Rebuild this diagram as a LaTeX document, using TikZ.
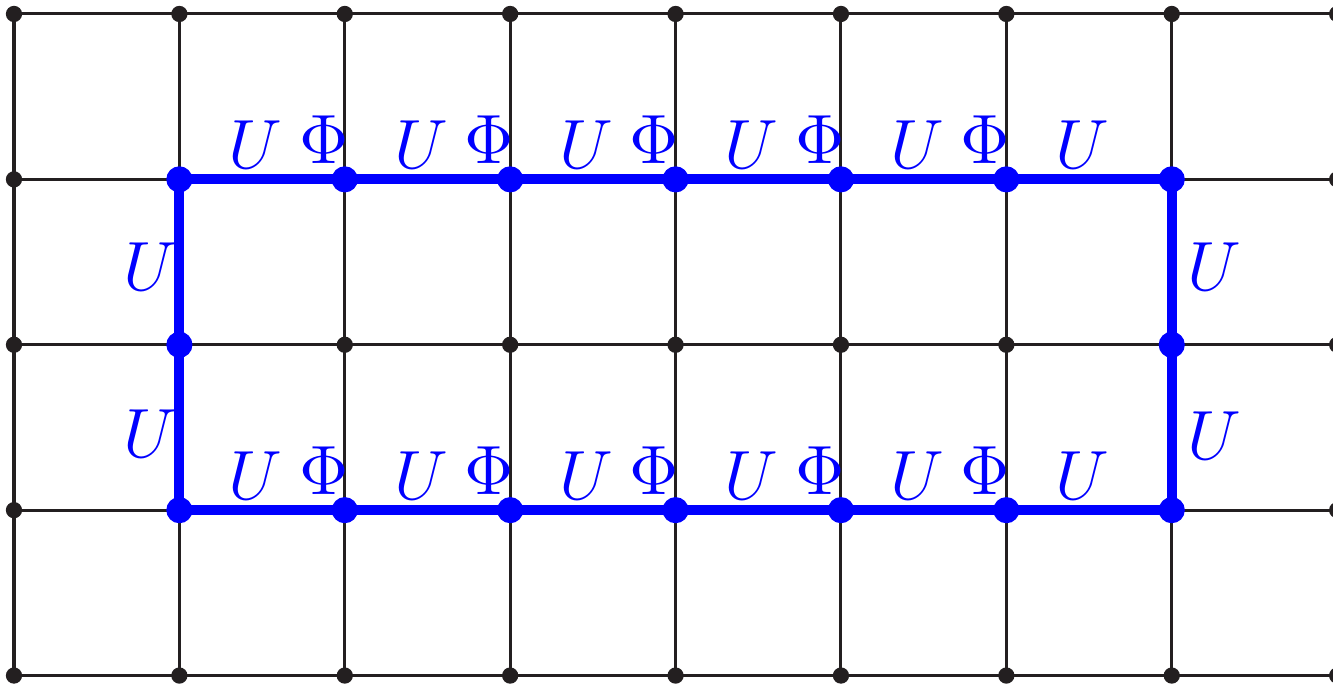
\documentclass[tikz,border=0pt]{standalone}
\usepackage{amsmath,amssymb}
\usetikzlibrary{positioning}
\definecolor{ink}{RGB}{35,31,32}

\begin{document}
\begin{tikzpicture}[
          gridline/.style={draw=ink, line width=0.52pt},
          dot/.style={circle, fill=ink, inner sep=0pt, minimum size=2.8pt},
          bdot/.style={circle, fill=blue, inner sep=0pt, minimum size=4.5pt},
          loopline/.style={draw=blue, line width=1.75pt},
          lbl/.style={text=blue, inner sep=0pt, font=\fontsize{11.5}{13}\selectfont}
        ]
        \useasboundingbox (-0.0846,-0.0532) rectangle (7.975,4.0847);
        % lattice points
        \foreach \i in {0,...,8} \foreach \j in {0,...,4} \coordinate (p\i\j) at (\i,\j);
        \foreach \j in {0,...,4} \draw[gridline] (p0\j) -- (p8\j);
        \foreach \i in {0,...,8} \draw[gridline] (p\i0) -- (p\i4);
        \foreach \i in {0,...,8} \foreach \j in {0,...,4} \node[dot] (d\i\j) at (p\i\j) {};
        % blue loop
        \draw[loopline] (p13) -- (p73) -- (p71) -- (p11) -- cycle;
        \foreach \i in {1,...,7} {
          \node[bdot] (b\i3) at (p\i3) {};
          \node[bdot] (b\i1) at (p\i1) {};
        }
        \node[bdot] (b12) at (p12) {};
        \node[bdot] (b72) at (p72) {};
        % labels on the horizontal edges
        \foreach \j in {1,3} {
          \foreach \i in {1,...,6} \node[lbl] (u\i\j) at (\i+0.46,\j+0.21) {$U$};
          \foreach \i in {1,...,5} \node[lbl] (f\i\j) at (\i+0.873,\j+0.24) {$\Phi$};
        }
        % labels on the vertical edges
        \node[lbl] (ul2) at (0.825,2.472) {$U$};
        \node[lbl] (ul1) at (0.825,1.462) {$U$};
        \node[lbl] (ur2) at (7.258,2.472) {$U$};
        \node[lbl] (ur1) at (7.258,1.452) {$U$};
      \end{tikzpicture}
\end{document}
